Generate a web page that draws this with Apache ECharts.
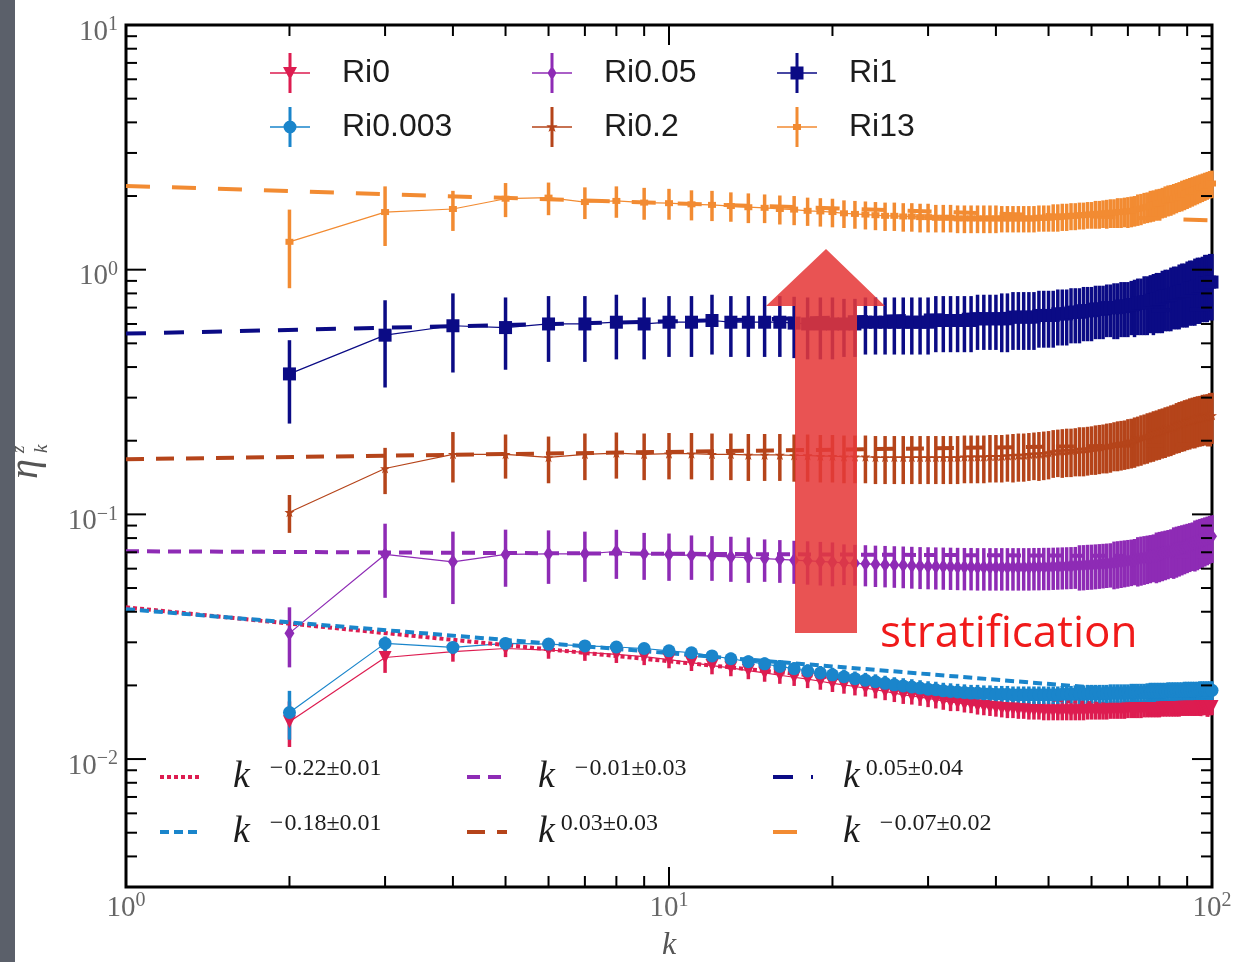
<!DOCTYPE html>
<html>
<head>
<meta charset="utf-8">
<script src="https://cdn.jsdelivr.net/npm/echarts@6/dist/echarts.min.js"></script>
<style>
  html, body { margin: 0; padding: 0; background: #fff; }
  #chart { width: 1237px; height: 962px; }
</style>
</head>
<body>
<div id="chart"></div>
<script>
// wavenumbers k
var kValues = [2,3,4,5,6,7,8,9,10,
  11,12,13,14,15,16,17,18,19,20,21,22,23,24,25,26,27,28,29,30,
  31,32,33,34,35,36,37,38,39,40,41,42,43,44,45,46,47,48,49,50,
  51,52,53,54,55,56,57,58,59,60,61,62,63,64,65,66,67,68,69,70,
  71,72,73,74,75,76,77,78,79,80,81,82,83,84,85,86,87,88,89,90,
  91,92,93,94,95,96,97,98,99,100];

// eta^z_k per run and error half-widths
var ri0Vals = [0.0142,0.0260,0.0275,0.0283,0.0279,0.0273,0.0268,0.0262,0.0255,
  0.0248,0.0241,0.0236,0.0230,0.0225,0.0220,0.0216,0.0212,0.0208,0.0204,
  0.0201,0.0198,0.0195,0.0192,0.0189,0.0186,0.0183,0.0181,0.0179,0.0177,
  0.0175,0.0173,0.0171,0.0170,0.0168,0.0167,0.0165,0.0164,0.0163,0.0162,
  0.0161,0.0160,0.0160,0.0159,0.0159,0.0158,0.0158,0.0158,0.0157,0.0157,
  0.0157,0.0157,0.0157,0.0157,0.0157,0.0157,0.0157,0.0157,0.0158,0.0158,
  0.0158,0.0158,0.0158,0.0158,0.0159,0.0159,0.0159,0.0159,0.0159,0.0160,
  0.0160,0.0160,0.0160,0.0160,0.0161,0.0161,0.0161,0.0161,0.0161,0.0161,
  0.0162,0.0162,0.0162,0.0162,0.0162,0.0162,0.0162,0.0163,0.0163,0.0163,
  0.0163,0.0163,0.0163,0.0163,0.0164,0.0164,0.0164,0.0164,0.0164,0.0164];
var ri0Err = [0.0030,0.0035,0.0025,0.0022,0.0022,0.0021,0.0021,0.0020,0.0020,
  0.0019,0.0019,0.0018,0.0018,0.0018,0.0017,0.0017,0.0017,0.0016,0.0016,
  0.0016,0.0016,0.0015,0.0015,0.0015,0.0015,0.0015,0.0014,0.0014,0.0014,
  0.0014,0.0014,0.0014,0.0013,0.0013,0.0013,0.0013,0.0013,0.0013,0.0013,
  0.0013,0.0013,0.0013,0.0013,0.0013,0.0013,0.0013,0.0013,0.0013,0.0013,
  0.0013,0.0013,0.0013,0.0013,0.0013,0.0013,0.0013,0.0013,0.0013,0.0013,
  0.0013,0.0013,0.0013,0.0013,0.0013,0.0013,0.0013,0.0013,0.0013,0.0013,
  0.0013,0.0013,0.0013,0.0013,0.0013,0.0013,0.0013,0.0013,0.0013,0.0013,
  0.0013,0.0013,0.0013,0.0013,0.0013,0.0013,0.0013,0.0013,0.0013,0.0013,
  0.0013,0.0013,0.0013,0.0013,0.0013,0.0013,0.0013,0.0013,0.0013,0.0013];

var ri0003Vals = [0.0155,0.0297,0.0286,0.0297,0.0295,0.0290,0.0287,0.0283,0.0277,
  0.0272,0.0264,0.0257,0.0250,0.0245,0.0239,0.0234,0.0229,0.0225,0.0221,
  0.0217,0.0213,0.0210,0.0207,0.0204,0.0201,0.0199,0.0197,0.0195,0.0193,
  0.0192,0.0190,0.0189,0.0188,0.0187,0.0186,0.0186,0.0185,0.0185,0.0184,
  0.0184,0.0184,0.0183,0.0183,0.0183,0.0183,0.0183,0.0183,0.0183,0.0183,
  0.0183,0.0183,0.0184,0.0184,0.0184,0.0184,0.0184,0.0184,0.0185,0.0185,
  0.0185,0.0185,0.0185,0.0185,0.0186,0.0186,0.0186,0.0186,0.0186,0.0186,
  0.0187,0.0187,0.0187,0.0187,0.0187,0.0187,0.0188,0.0188,0.0188,0.0188,
  0.0188,0.0188,0.0189,0.0189,0.0189,0.0189,0.0189,0.0189,0.0190,0.0190,
  0.0190,0.0190,0.0190,0.0190,0.0191,0.0191,0.0191,0.0191,0.0191,0.0191];
var ri0003Err = [0.0035,0.0020,0.0016,0.0016,0.0016,0.0016,0.0016,0.0015,0.0015,
  0.0015,0.0015,0.0015,0.0015,0.0015,0.0015,0.0015,0.0015,0.0015,0.0015,
  0.0015,0.0015,0.0015,0.0015,0.0015,0.0015,0.0015,0.0015,0.0015,0.0015,
  0.0015,0.0015,0.0015,0.0015,0.0015,0.0015,0.0015,0.0015,0.0015,0.0015,
  0.0015,0.0015,0.0015,0.0015,0.0015,0.0015,0.0015,0.0015,0.0015,0.0015,
  0.0015,0.0015,0.0015,0.0015,0.0015,0.0016,0.0016,0.0016,0.0016,0.0016,
  0.0016,0.0016,0.0016,0.0016,0.0016,0.0016,0.0016,0.0016,0.0016,0.0016,
  0.0016,0.0016,0.0016,0.0016,0.0016,0.0017,0.0017,0.0017,0.0017,0.0017,
  0.0017,0.0017,0.0017,0.0017,0.0017,0.0017,0.0017,0.0017,0.0017,0.0017,
  0.0017,0.0017,0.0017,0.0017,0.0017,0.0017,0.0017,0.0017,0.0017,0.0017];

var ri005Vals = [0.0327,0.0686,0.0640,0.0686,0.0690,0.0690,0.0705,0.0690,0.0685,
  0.0680,0.0675,0.0670,0.0665,0.0660,0.0655,0.0650,0.0646,0.0642,0.0638,
  0.0634,0.0631,0.0628,0.0625,0.0623,0.0621,0.0619,0.0617,0.0615,0.0614,
  0.0613,0.0612,0.0611,0.0610,0.0609,0.0609,0.0608,0.0608,0.0608,0.0608,
  0.0608,0.0608,0.0608,0.0608,0.0608,0.0608,0.0609,0.0609,0.0610,0.0610,
  0.0611,0.0612,0.0613,0.0614,0.0615,0.0616,0.0618,0.0619,0.0621,0.0622,
  0.0624,0.0626,0.0628,0.0630,0.0632,0.0634,0.0637,0.0640,0.0643,0.0646,
  0.0649,0.0653,0.0657,0.0661,0.0665,0.0669,0.0673,0.0678,0.0683,0.0688,
  0.0693,0.0698,0.0703,0.0709,0.0715,0.0721,0.0727,0.0733,0.0739,0.0745,
  0.0751,0.0757,0.0764,0.0771,0.0778,0.0785,0.0792,0.0799,0.0806,0.0813];
var ri005Err = [0.009,0.023,0.021,0.018,0.017,0.016,0.016,0.015,0.015,
  0.014,0.014,0.014,0.014,0.013,0.013,0.013,0.013,0.013,0.013,
  0.012,0.012,0.012,0.012,0.012,0.012,0.012,0.012,0.012,0.012,
  0.012,0.012,0.012,0.012,0.012,0.012,0.012,0.012,0.012,0.012,
  0.012,0.012,0.012,0.012,0.012,0.012,0.012,0.012,0.012,0.012,
  0.012,0.012,0.012,0.012,0.012,0.012,0.013,0.013,0.013,0.013,
  0.013,0.013,0.013,0.013,0.013,0.014,0.014,0.014,0.014,0.014,
  0.014,0.014,0.015,0.015,0.015,0.015,0.015,0.015,0.016,0.016,
  0.016,0.016,0.016,0.016,0.017,0.017,0.017,0.017,0.017,0.017,
  0.017,0.017,0.018,0.018,0.018,0.018,0.018,0.018,0.018,0.018];

var ri02Vals = [0.102,0.154,0.176,0.176,0.171,0.176,0.178,0.176,0.177,
  0.177,0.176,0.176,0.175,0.175,0.175,0.174,0.174,0.173,0.173,
  0.172,0.172,0.172,0.171,0.171,0.171,0.171,0.171,0.171,0.171,
  0.171,0.171,0.171,0.171,0.172,0.172,0.172,0.172,0.173,0.173,
  0.173,0.174,0.174,0.175,0.175,0.176,0.177,0.177,0.178,0.179,
  0.181,0.182,0.182,0.183,0.183,0.184,0.185,0.185,0.186,0.187,
  0.188,0.189,0.190,0.191,0.192,0.194,0.195,0.196,0.197,0.199,
  0.200,0.202,0.204,0.206,0.208,0.210,0.212,0.214,0.216,0.218,
  0.220,0.222,0.224,0.226,0.228,0.231,0.233,0.235,0.237,0.239,
  0.241,0.243,0.244,0.246,0.247,0.249,0.250,0.251,0.253,0.254];
var ri02Err = [0.018,0.033,0.041,0.036,0.037,0.038,0.038,0.038,0.038,
  0.038,0.038,0.038,0.038,0.038,0.038,0.038,0.038,0.038,0.038,
  0.038,0.038,0.038,0.038,0.038,0.038,0.038,0.038,0.038,0.038,
  0.038,0.038,0.038,0.038,0.038,0.038,0.038,0.038,0.038,0.038,
  0.038,0.038,0.039,0.039,0.039,0.039,0.039,0.040,0.040,0.040,
  0.040,0.040,0.041,0.041,0.041,0.041,0.042,0.042,0.042,0.042,
  0.043,0.043,0.043,0.044,0.044,0.044,0.045,0.045,0.045,0.046,
  0.046,0.047,0.047,0.048,0.048,0.049,0.049,0.050,0.050,0.051,
  0.051,0.052,0.052,0.053,0.053,0.054,0.055,0.055,0.056,0.056,
  0.057,0.057,0.058,0.058,0.058,0.059,0.059,0.059,0.060,0.060];

var ri1Vals = [0.375,0.540,0.590,0.580,0.600,0.600,0.610,0.600,0.610,
  0.610,0.620,0.610,0.610,0.610,0.610,0.605,0.600,0.600,0.600,
  0.600,0.600,0.610,0.610,0.610,0.610,0.610,0.610,0.610,0.610,
  0.620,0.620,0.620,0.620,0.620,0.620,0.630,0.630,0.630,0.630,
  0.630,0.630,0.640,0.640,0.640,0.640,0.640,0.650,0.650,0.650,
  0.650,0.660,0.660,0.660,0.670,0.670,0.670,0.680,0.680,0.680,
  0.690,0.690,0.690,0.700,0.700,0.700,0.700,0.710,0.710,0.710,
  0.720,0.720,0.730,0.730,0.740,0.740,0.750,0.750,0.760,0.760,
  0.770,0.780,0.780,0.790,0.800,0.800,0.810,0.820,0.820,0.830,
  0.840,0.840,0.850,0.860,0.860,0.870,0.880,0.880,0.890,0.890];
var ri1Err = [0.14,0.21,0.21,0.19,0.18,0.18,0.18,0.17,0.17,
  0.17,0.17,0.17,0.17,0.17,0.17,0.17,0.17,0.17,0.17,
  0.16,0.16,0.16,0.16,0.16,0.16,0.16,0.16,0.16,0.16,
  0.16,0.16,0.16,0.16,0.16,0.16,0.16,0.16,0.16,0.16,
  0.17,0.17,0.17,0.17,0.17,0.17,0.17,0.17,0.17,0.17,
  0.17,0.17,0.17,0.17,0.17,0.17,0.17,0.17,0.17,0.17,
  0.17,0.17,0.17,0.17,0.17,0.18,0.18,0.18,0.18,0.18,
  0.18,0.19,0.19,0.19,0.20,0.20,0.20,0.21,0.21,0.21,
  0.22,0.22,0.22,0.23,0.23,0.23,0.24,0.24,0.24,0.25,
  0.25,0.25,0.26,0.26,0.26,0.26,0.27,0.27,0.27,0.27];

var ri13Vals = [1.30,1.72,1.77,1.95,1.97,1.89,1.91,1.88,1.87,
  1.85,1.84,1.82,1.80,1.79,1.77,1.76,1.74,1.73,1.72,
  1.70,1.69,1.68,1.67,1.66,1.66,1.65,1.65,1.64,1.64,
  1.63,1.63,1.63,1.62,1.62,1.62,1.62,1.62,1.62,1.62,
  1.62,1.62,1.62,1.62,1.62,1.62,1.62,1.63,1.63,1.63,
  1.64,1.64,1.65,1.65,1.66,1.66,1.67,1.67,1.68,1.68,
  1.69,1.69,1.70,1.70,1.71,1.71,1.72,1.72,1.73,1.73,
  1.74,1.75,1.77,1.78,1.80,1.81,1.83,1.84,1.86,1.87,
  1.89,1.91,1.93,1.94,1.96,1.98,2.00,2.02,2.04,2.06,
  2.08,2.10,2.12,2.14,2.16,2.18,2.20,2.22,2.24,2.25];
var ri13Err = [0.46,0.47,0.33,0.31,0.30,0.28,0.28,0.28,0.27,
  0.26,0.26,0.25,0.25,0.24,0.24,0.24,0.23,0.23,0.23,
  0.22,0.22,0.22,0.22,0.22,0.22,0.22,0.22,0.22,0.22,
  0.21,0.21,0.21,0.21,0.21,0.21,0.21,0.21,0.21,0.21,
  0.20,0.20,0.20,0.20,0.20,0.20,0.20,0.20,0.20,0.20,
  0.21,0.21,0.21,0.21,0.21,0.21,0.21,0.21,0.21,0.21,
  0.22,0.22,0.22,0.23,0.23,0.23,0.24,0.24,0.24,0.25,
  0.25,0.25,0.26,0.26,0.26,0.26,0.27,0.27,0.27,0.27,
  0.27,0.28,0.28,0.28,0.28,0.28,0.28,0.29,0.29,0.29,
  0.29,0.29,0.29,0.29,0.29,0.29,0.29,0.29,0.29,0.29];

// power-law fits, drawn between k = 1 and k = 100
var fitK = [1, 100];
var fitRi0 = [0.0417, 0.0151];
var fitRi0003 = [0.0410, 0.0179];
var fitRi005 = [0.0707, 0.0674];
var fitRi02 = [0.168, 0.193];
var fitRi1 = [0.548, 0.690];
var fitRi13 = [2.20, 1.59];
var fitLabels = ['\u22120.22\u00b10.01', '\u22120.18\u00b10.01', '\u22120.01\u00b10.03',
                 '0.03\u00b10.03', '0.05\u00b10.04', '\u22120.07\u00b10.02'];

var runNames = ['Ri0', 'Ri0.003', 'Ri0.05', 'Ri0.2', 'Ri1', 'Ri13'];

// tick positions
var xMajorTicks = [1, 10, 100];
var xMinorTicks = [2, 3, 4, 5, 6, 7, 8, 9, 20, 30, 40, 50, 60, 70, 80, 90];
var yMajorTicks = [0.01, 0.1, 1, 10];
var yMinorTicks = [0.003, 0.004, 0.005, 0.006, 0.007, 0.008, 0.009,
                   0.02, 0.03, 0.04, 0.05, 0.06, 0.07, 0.08, 0.09,
                   0.2, 0.3, 0.4, 0.5, 0.6, 0.7, 0.8, 0.9,
                   2, 3, 4, 5, 6, 7, 8, 9];

var colors = ['#dd1c50', '#1a85cb', '#8e2bb5', '#b5441a', '#0b0b85', '#f28b32'];

var starPath = 'path://M0,-10L2.4,-3.1L9.5,-3.1L3.8,1.2L5.9,8.1L0,4L-5.9,8.1L-3.8,1.2L-9.5,-3.1L-2.4,-3.1Z';
var runs = [
  { vals: ri0Vals, err: ri0Err, symbol: 'triangle', size: 13, rotate: 180,
    mark: 'M13,14L27,14L20,27Z' },
  { vals: ri0003Vals, err: ri0003Err, symbol: 'circle', size: 13, rotate: 0,
    mark: 'M26.5,20A6.5,6.5 0 1,1 13.5,20A6.5,6.5 0 1,1 26.5,20Z' },
  { vals: ri005Vals, err: ri005Err, symbol: 'diamond', size: [10, 15], rotate: 0,
    mark: 'M20,12.5L24.5,20L20,27.5L15.5,20Z' },
  { vals: ri02Vals, err: ri02Err, symbol: starPath, size: 10, rotate: 0,
    mark: 'M20,14L21.4,18.2L25.7,18.2L22.2,20.7L23.5,24.9L20,22.4L16.5,24.9L17.8,20.7L14.3,18.2L18.6,18.2Z' },
  { vals: ri1Vals, err: ri1Err, symbol: 'rect', size: 13, rotate: 0,
    mark: 'M13.5,13.5L26.5,13.5L26.5,26.5L13.5,26.5Z' },
  { vals: ri13Vals, err: ri13Err, symbol: 'rect', size: [8, 6], rotate: 0,
    mark: 'M16,17L24,17L24,23L16,23Z' }
];
var fits = [fitRi0, fitRi0003, fitRi005, fitRi02, fitRi1, fitRi13];
var fitDash = [[4, 3], [9, 5], [13, 8], [18, 12], [20, 18], [24, 22]];
var fitNames = fitLabels.map(function (l) { return 'k^' + l; });

// zero-area corner points keep every legend icon's box at 40x40
var iconBox = 'M0,0L0,0Z M40,40L40,40Z ';
var crossPath = 'M0,19.2L40,19.2L40,20.8L0,20.8Z M18.5,0L21.5,0L21.5,40L18.5,40Z ';

function dashIcon(dash, w) {
  var p = 'path://' + iconBox;
  var x = 0, i = 0, y1 = 20 - w / 2, y2 = 20 + w / 2;
  while (x < 40) {
    var x2 = Math.min(40, x + dash[i % 2]);
    if (i % 2 === 0) p += 'M' + x + ',' + y1 + 'L' + x2 + ',' + y1 + 'L' + x2 + ',' + y2 + 'L' + x + ',' + y2 + 'Z ';
    x = x2; i++;
  }
  return p;
}

var series = [];
runs.forEach(function (r, i) {
  var c = colors[i];
  series.push({
    type: 'custom',
    name: runNames[i],
    color: c,
    silent: true,
    encode: { x: 0, y: [1, 2] },
    data: kValues.map(function (k, j) { return [k, r.vals[j] - r.err[j], r.vals[j] + r.err[j]]; }),
    renderItem: function (params, api) {
      var p1 = api.coord([api.value(0), api.value(1)]);
      var p2 = api.coord([api.value(0), api.value(2)]);
      return {
        type: 'line',
        shape: { x1: p1[0], y1: p1[1], x2: p2[0], y2: p2[1] },
        style: { stroke: c, lineWidth: 3.5 }
      };
    }
  });
  series.push({
    type: 'line',
    name: runNames[i],
    color: c,
    silent: true,
    data: kValues.map(function (k, j) { return [k, r.vals[j]]; }),
    symbol: r.symbol,
    symbolSize: r.size,
    symbolRotate: r.rotate,
    lineStyle: { color: c, width: 1.2 },
    itemStyle: { color: c, borderWidth: 0 }
  });
});
fits.forEach(function (f, i) {
  series.push({
    type: 'line',
    name: fitNames[i],
    color: colors[i],
    silent: true,
    z: 3,
    symbol: 'none',
    data: [[fitK[0], f[0]], [fitK[1], f[1]]],
    lineStyle: { color: colors[i], width: 4, type: fitDash[i] }
  });
});

function tickSeries(values, isX, len) {
  return {
    type: 'custom',
    silent: true,
    z: 10,
    data: values.map(function (v) { return isX ? [v, 1] : [1, v]; }),
    renderItem: function (params, api) {
      var cs = params.coordSys;
      var p = api.coord([api.value(0), api.value(1)]);
      var st = { stroke: '#000', lineWidth: 2 };
      if (isX) {
        return { type: 'group', children: [
          { type: 'line', shape: { x1: p[0], y1: cs.y + cs.height, x2: p[0], y2: cs.y + cs.height - len }, style: st },
          { type: 'line', shape: { x1: p[0], y1: cs.y, x2: p[0], y2: cs.y + len }, style: st }
        ] };
      }
      return { type: 'group', children: [
        { type: 'line', shape: { x1: cs.x, y1: p[1], x2: cs.x + len, y2: p[1] }, style: st },
        { type: 'line', shape: { x1: cs.x + cs.width, y1: p[1], x2: cs.x + cs.width - len, y2: p[1] }, style: st }
      ] };
    }
  };
}
series.push(tickSeries(xMajorTicks, true, 20));
series.push(tickSeries(xMinorTicks, true, 11));
series.push(tickSeries(yMajorTicks, false, 20));
series.push(tickSeries(yMinorTicks, false, 11));

function powLabel(v) {
  var e = Math.log(v) / Math.LN10;
  var r = Math.round(e);
  if (Math.abs(e - r) > 1e-6) return '';
  return '{b|10}{s|' + (r < 0 ? '\u2212' + (-r) : r) + '}';
}
var labelRich = {
  b: { fontFamily: 'Liberation Serif', fontSize: 29, color: '#666', lineHeight: 30 },
  s: { fontFamily: 'Liberation Serif', fontSize: 20, color: '#666', lineHeight: 20, padding: [0, 0, 14, 0] }
};

function runLegend(left, idx) {
  return {
    orient: 'vertical', left: left, top: 53, padding: 0,
    itemWidth: 40, itemHeight: 40, itemGap: 14,
    selectedMode: false,
    itemStyle: { borderWidth: 0 },
    textStyle: { fontFamily: 'Liberation Sans', fontSize: 32, color: '#1c1c1c', padding: [0, 0, 0, 27] },
    data: idx.map(function (i) { return { name: runNames[i], icon: 'path://' + iconBox + crossPath + runs[i].mark }; })
  };
}
var fitRich = {
  k: { fontFamily: 'Liberation Serif', fontStyle: 'italic', fontSize: 38, color: '#1c1c1c', lineHeight: 40 },
  m: { fontFamily: 'Liberation Serif', fontSize: 24, color: '#1c1c1c', lineHeight: 24, padding: [0, 1, 16, 20] },
  p: { fontFamily: 'Liberation Serif', fontSize: 24, color: '#1c1c1c', lineHeight: 24, padding: [0, 0, 16, 6] },
  e: { fontFamily: 'Liberation Serif', fontSize: 24, color: '#1c1c1c', lineHeight: 24, padding: [0, 0, 16, 0] }
};
function fitLegend(left, pad, idx) {
  return {
    orient: 'vertical', left: left, top: 757, padding: 0,
    itemWidth: 40, itemHeight: 40, itemGap: 15,
    selectedMode: false,
    itemStyle: { borderWidth: 0 },
    textStyle: { padding: [0, 0, 0, pad], rich: fitRich },
    formatter: function (name) {
      var ex = name.slice(2);
      if (ex.charAt(0) === '\u2212') return '{k|k}{m|\u2212}{e|' + ex.slice(1) + '}';
      return '{k|k}{p|' + ex + '}';
    },
    data: idx.map(function (i) { return { name: fitNames[i], icon: dashIcon(fitDash[i], 4) }; })
  };
}

var chart = echarts.init(document.getElementById('chart'));
chart.setOption({
  animation: false,
  backgroundColor: '#fff',
  grid: { left: 126, top: 25, width: 1086, height: 862, outerBoundsMode: 'none', containLabel: false,
          show: true, borderColor: '#000', borderWidth: 3, backgroundColor: '#fff' },
  xAxis: {
    type: 'log', logBase: 10, min: 1, max: 100,
    axisLine: { show: false }, axisTick: { show: false }, splitLine: { show: false },
    axisLabel: { margin: 6, formatter: powLabel, rich: labelRich },
    name: 'k', nameLocation: 'middle', nameGap: 41,
    nameTextStyle: { fontFamily: 'Liberation Serif', fontStyle: 'italic', fontSize: 32, color: '#555' }
  },
  yAxis: {
    type: 'log', logBase: 10, min: 0.003, max: 10,
    axisLine: { show: false }, axisTick: { show: false }, splitLine: { show: false },
    axisLabel: { margin: 8, padding: [14, 0, 0, 0], formatter: powLabel, rich: labelRich }
  },
  legend: [
    runLegend(270, [0, 1]), runLegend(532, [2, 3]), runLegend(777, [4, 5]),
    fitLegend(160, 28, [0, 1]), fitLegend(467, 26, [2, 3]), fitLegend(773, 25, [4, 5])
  ],
  graphic: [
    { type: 'rect', shape: { x: 0, y: 0, width: 15, height: 962 }, style: { fill: '#5b606a' } },
    { type: 'group', x: 38, y: 479, rotation: Math.PI / 2, z: 10, children: [
      { type: 'text', x: 0, y: -12, style: { text: '\u03b7', fontFamily: 'Liberation Serif', fontStyle: 'italic', fontSize: 40, fill: '#555', verticalAlign: 'middle' } },
      { type: 'text', x: 26, y: -19, style: { text: 'z', fontFamily: 'Liberation Serif', fontStyle: 'italic', fontSize: 19, fill: '#555', verticalAlign: 'middle' } },
      { type: 'text', x: 26, y: 4, style: { text: 'k', fontFamily: 'Liberation Serif', fontStyle: 'italic', fontSize: 19, fill: '#555', verticalAlign: 'middle' } }
    ] },
    { type: 'polygon', z: 100,
      shape: { points: [[795, 633], [857, 633], [857, 306], [885, 306], [826, 249], [766, 306], [795, 306]] },
      style: { fill: '#e63a3a', opacity: 0.87 } },
    { type: 'text', z: 100, x: 880, y: 634,
      style: { text: 'stratification', fontFamily: 'Open Sans', fontSize: 44, fill: '#f01a1a', verticalAlign: 'middle' } }
  ],
  series: series
});
</script>
</body>
</html>
